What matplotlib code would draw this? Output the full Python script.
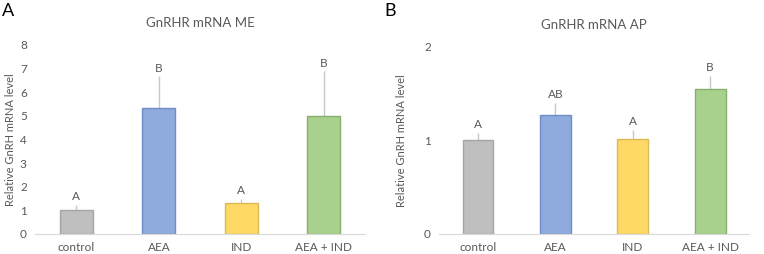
import matplotlib
matplotlib.use("Agg")
import matplotlib.pyplot as plt

categories = ["control", "AEA", "IND", "AEA + IND"]
me_values = [1.0, 5.32, 1.30, 5.01]
me_errors = [0.23, 1.35, 0.18, 1.87]
me_letters = ["A", "B", "A", "B"]
ap_values = [1.0, 1.27, 1.01, 1.55]
ap_errors = [0.08, 0.13, 0.10, 0.14]
ap_letters = ["A", "AB", "A", "B"]

face_colors = ["#BFBFBF", "#8FAADC", "#FFD966", "#A9D18E"]
edge_colors = ["#A5A5A5", "#6F8EC8", "#D9B95A", "#86AF6B"]

plt.rcParams["font.family"] = ["Lato", "DejaVu Sans"]
txt = "#595959"

fig = plt.figure(figsize=(7.64, 2.54), dpi=100)
axA = fig.add_axes([0.046, 0.079, 0.432, 0.744])
axB = fig.add_axes([0.575, 0.079, 0.405, 0.737])

def draw(ax, vals, errs, letters, ymax, yticks, title, off):
    x = list(range(len(categories)))
    ax.bar(x, vals, width=0.4, color=face_colors, edgecolor=edge_colors, linewidth=1.0, zorder=2)
    ax.errorbar(x, vals, yerr=[[0]*len(errs), errs], fmt="none", ecolor="#C8C8C8", elinewidth=1.0, capsize=0, zorder=1)
    for xi, v, e, l in zip(x, vals, errs, letters):
        ax.text(xi, v + e + off, l, ha="center", va="bottom", fontsize=8.5, color=txt)
    ax.set_xlim(-0.5, len(categories) - 0.5)
    ax.set_ylim(0, ymax)
    ax.set_yticks(yticks)
    ax.set_xticks(x)
    ax.set_xticklabels(categories)
    for s in ["top", "right", "left"]:
        ax.spines[s].set_visible(False)
    ax.spines["bottom"].set_color("#D9D9D9")
    ax.tick_params(axis="both", length=0, labelsize=8.5, colors=txt, pad=6)
    ax.set_ylabel("Relative GnRH mRNA level", fontsize=8, color=txt, labelpad=3)
    ax.set_title(title, fontsize=9.5, color=txt, pad=13)

draw(axA, me_values, me_errors, me_letters, 8, range(0, 9), "GnRHR mRNA ME", 0.12)
draw(axB, ap_values, ap_errors, ap_letters, 2, [0, 1, 2], "GnRHR mRNA AP", 0.03)
axB.yaxis.labelpad = 12

fig.text(0.003, 0.99, "A", fontsize=13, va="top", ha="left", color="black")
fig.text(0.503, 0.99, "B", fontsize=13, va="top", ha="left", color="black")

fig.savefig("out.png", dpi=100)
